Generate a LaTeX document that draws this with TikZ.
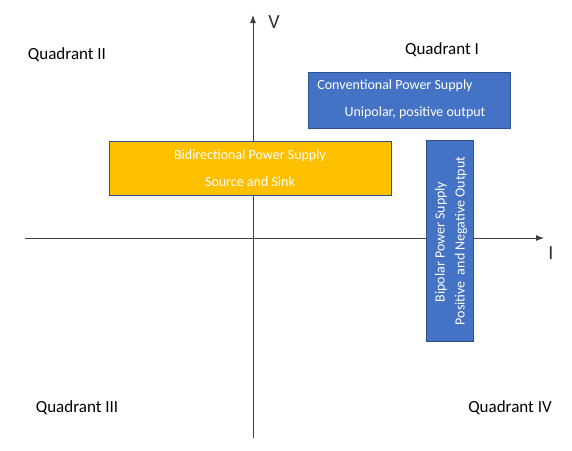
\documentclass[tikz,border=0pt]{standalone}
\usepackage{fontspec}
\setmainfont{Carlito}
\usetikzlibrary{arrows.meta}

\definecolor{boxblue}{HTML}{4472C4}
\definecolor{boxorange}{HTML}{FFC000}
\definecolor{edgeblue}{HTML}{2F528F}

\tikzset{
    quadlabel/.style = {font = \fontsize{17}{20}\selectfont, inner sep = 0},
    supplybox/.style = {draw = edgeblue, line width = 0.8pt},
    boxtext/.style = {text = white, font = \fontsize{14}{16}\selectfont, inner sep = 0},
    axis/.style = {line width = 0.9pt, black!75, -{Latex[length = 8pt, width = 6pt]}}
}

\begin{document}
\begin{tikzpicture}[x = 1pt, y = -1pt]
    \useasboundingbox [fill = white] (0, 0) rectangle (572, 450);

% The two axes.
    \coordinate (ileft) at (25, 238);
    \coordinate (iright) at (544, 238);
    \coordinate (vbottom) at (253, 438);
    \coordinate (vtop) at (253, 15);
    \draw [axis] (ileft) -- (iright);
    \draw [axis] (vbottom) -- (vtop);
    \node [font = \fontsize{20}{24}\selectfont, text = black!80, inner sep = 0] (vlabel) at (274, 22) {V};
    \node [font = \fontsize{20}{24}\selectfont, text = black!80, inner sep = 0] (ilabel) at (551, 253) {I};

% Quadrant names.
    \node [quadlabel] (q1) at (442, 50) {Quadrant I};
    \node [quadlabel] (q2) at (67, 55) {Quadrant II};
    \node [quadlabel] (q3) at (77, 408) {Quadrant III};
    \node [quadlabel] (q4) at (510, 408) {Quadrant IV};

% The supply boxes.
    \fill [boxorange] (109, 141) rectangle (391, 195);
    \draw [supplybox] (109, 141) rectangle (391, 195);
    \node [boxtext] (bidir) at (250, 156) {Bidirectional Power Supply};
    \node [boxtext] (sink) at (250, 182) {Source and Sink};

    \fill [boxblue] (308, 72) rectangle (510, 128);
    \draw [supplybox] (308, 72) rectangle (510, 128);
    \node [boxtext] (conv) at (395, 86) {Conventional Power Supply};
    \node [boxtext] (unip) at (415, 113) {Unipolar, positive output};

    \fill [boxblue] (426, 140) rectangle (473, 341);
    \draw [supplybox] (426, 140) rectangle (473, 341);
    \node [boxtext, rotate = 90] (bipol) at (441, 242) {Bipolar Power Supply};
    \node [boxtext, rotate = 90] (posneg) at (461, 241) {Positive\ \ and Negative Output};
\end{tikzpicture}
\end{document}
